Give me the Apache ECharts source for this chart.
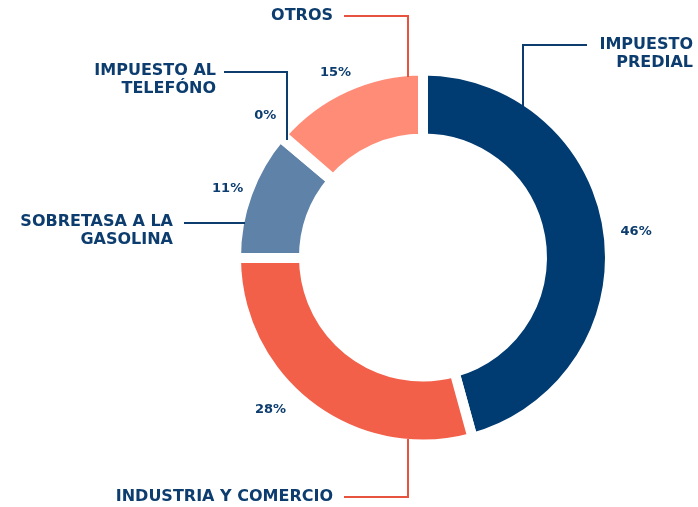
<!DOCTYPE html>
<html>
<head>
<meta charset="utf-8">
<script src="https://cdn.jsdelivr.net/npm/echarts@6/dist/echarts.min.js"></script>
<style>
  html, body { margin: 0; padding: 0; background: #fff; }
  #main { width: 698px; height: 507px; }
</style>
</head>
<body>
<div id="main"></div>
<script>
// datos
var categorias = ['IMPUESTO PREDIAL', 'INDUSTRIA Y COMERCIO', 'SOBRETASA A LA GASOLINA', 'IMPUESTO AL TELEFÓNO', 'OTROS'];
var valores = [45.75, 29.25, 11.2, 0.25, 13.6];
var porcentajes = ['46%', '28%', '11%', '0%', '15%'];
var colores = ['#003b71', '#f2604a', '#5f82a8', '#003b71', '#ff8c77'];

var azul = '#0c3d6e';
var rojo = '#e8533f';

// pequeños ajustes de posición de los porcentajes
var ajustes = [[6, 2], [-26, -14], [1, 3], [1, -6], [-1, 5]];

var myChart = echarts.init(document.getElementById('main'));

var datos = categorias.map(function (c, i) {
  return { name: c, value: valores[i], itemStyle: { color: colores[i] } };
});

function nombre(x, y, texto, align) {
  return {
    type: 'text', x: x, y: y, z: 100,
    style: {
      text: texto, fill: azul, align: align, verticalAlign: 'middle',
      font: 'bold 16px "DejaVu Sans"', lineHeight: 18
    }
  };
}
function linea(puntos, color) {
  return {
    type: 'polyline', z: 100,
    shape: { points: puntos },
    style: { stroke: color, lineWidth: 2, fill: null }
  };
}

myChart.setOption({
  backgroundColor: '#fff',
  animation: false,
  series: [
    {
      type: 'pie',
      center: [423, 257.5],
      radius: [119, 187],
      startAngle: 90,
      clockwise: true,
      silent: true,
      label: { show: false },
      labelLine: { show: false },
      itemStyle: { borderColor: '#fff', borderWidth: 10 },
      data: datos
    },
    {
      // anillo invisible solo para los porcentajes
      type: 'pie',
      center: [423, 257.5],
      radius: [192, 220],
      startAngle: 90,
      clockwise: true,
      silent: true,
      itemStyle: { color: 'rgba(0,0,0,0)' },
      label: {
        show: true,
        position: 'inside',
        color: azul,
        fontFamily: 'DejaVu Sans',
        fontWeight: 'bold',
        fontSize: 13,
        formatter: function (p) { return porcentajes[p.dataIndex]; }
      },
      labelLine: { show: false },
      labelLayout: function (p) {
        var a = ajustes[p.dataIndex];
        return { dx: a[0], dy: a[1] };
      },
      data: categorias.map(function (c, i) { return { name: c, value: valores[i] }; })
    }
  ],
  graphic: [
    // impuesto predial
    linea([[587, 45], [523, 45], [523, 106]], azul),
    nombre(693, 54, 'IMPUESTO\nPREDIAL', 'right'),
    // otros
    linea([[344, 16], [408, 16], [408, 77]], rojo),
    nombre(333, 16, 'OTROS', 'right'),
    // impuesto al telefono
    linea([[224, 72], [287, 72], [287, 140]], azul),
    nombre(216, 80, 'IMPUESTO AL\nTELEFÓNO', 'right'),
    // sobretasa
    linea([[184, 223], [245, 223]], azul),
    nombre(173, 231, 'SOBRETASA A LA\nGASOLINA', 'right'),
    // industria y comercio
    linea([[344, 497], [408, 497], [408, 439]], rojo),
    nombre(333, 497, 'INDUSTRIA Y COMERCIO', 'right')
  ]
});
</script>
</body>
</html>
